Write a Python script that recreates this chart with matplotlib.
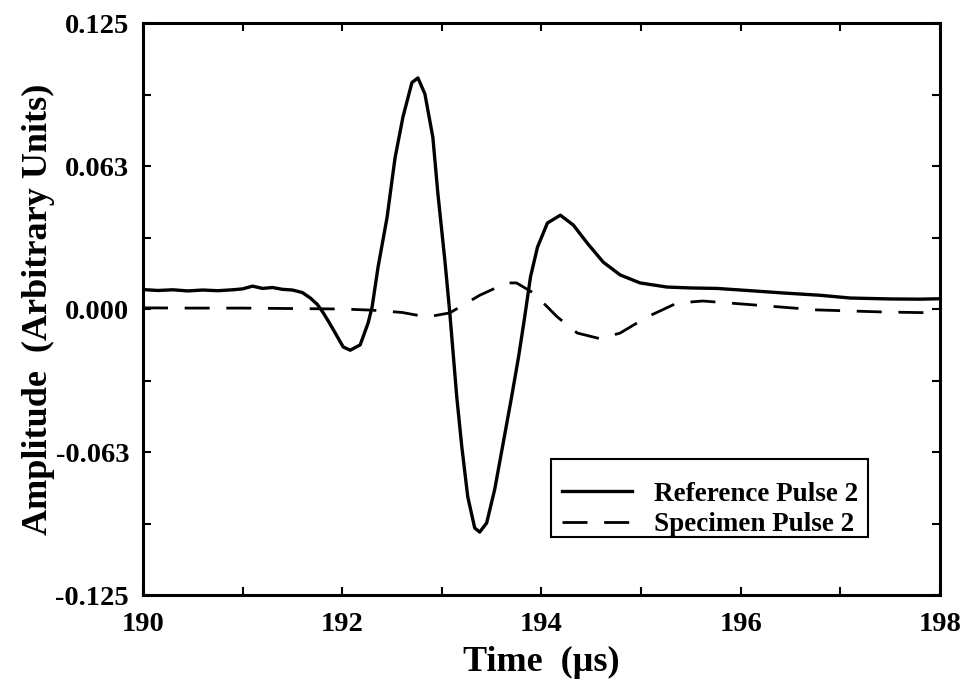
import matplotlib
matplotlib.use("Agg")
import matplotlib.pyplot as plt
from matplotlib.patches import Rectangle
from matplotlib.ticker import FixedLocator, FixedFormatter

plt.rcParams['font.family'] = ['Liberation Serif', 'DejaVu Serif']
plt.rcParams['font.weight'] = 'bold'

# reference pulse 2 (solid)
ref_t = [190.0, 190.15, 190.3, 190.45, 190.6, 190.75, 190.9, 191.0, 191.1, 191.2,
         191.3, 191.4, 191.5, 191.6, 191.68, 191.75, 191.81, 191.87, 191.93, 192.01,
         192.08, 192.18, 192.26, 192.30, 192.36, 192.45, 192.53, 192.61, 192.70, 192.76,
         192.83, 192.91, 192.96, 193.03, 193.08, 193.15, 193.20, 193.26, 193.33, 193.38,
         193.45, 193.53, 193.61, 193.70, 193.77, 193.83, 193.89, 193.96, 194.06, 194.19,
         194.32, 194.46, 194.62, 194.79, 194.99, 195.26, 195.5, 195.76, 196.1, 196.43,
         196.8, 197.10, 197.5, 197.8, 198.0]
ref_a = [0.0085, 0.0081, 0.0084, 0.0079, 0.0083, 0.0080, 0.0084, 0.0088, 0.0100, 0.0090,
         0.0094, 0.0086, 0.0083, 0.0072, 0.0048, 0.0020, -0.0017, -0.0060, -0.0105, -0.0166,
         -0.0180, -0.0157, -0.0061, 0.0009, 0.0184, 0.0400, 0.0660, 0.0840, 0.0990, 0.1010,
         0.0940, 0.0750, 0.0506, 0.0214, -0.0017, -0.0385, -0.0600, -0.0820, -0.0957, -0.0975,
         -0.0935, -0.0790, -0.0600, -0.0385, -0.0210, -0.0040, 0.0140, 0.0270, 0.0376, 0.0410,
         0.0367, 0.0288, 0.0205, 0.0149, 0.0114, 0.0096, 0.0092, 0.0090, 0.0080, 0.0070,
         0.0060, 0.0048, 0.0044, 0.0043, 0.0045]

# specimen pulse 2 (dashed)
spec_t = [190.0, 190.5, 191.0, 191.5, 192.0, 192.3, 192.6, 192.85, 193.08, 193.38,
          193.65, 193.75, 193.92, 194.16, 194.36, 194.59, 194.79, 195.06, 195.36, 195.62,
          196.16, 196.77, 197.43, 198.0]
spec_a = [0.0005, 0.0004, 0.0004, 0.0002, 0.0, -0.0005, -0.0015, -0.0035, -0.0017, 0.0060,
          0.0114, 0.0114, 0.0070, -0.0035, -0.0105, -0.0130, -0.0105, -0.0035, 0.0026, 0.0035,
          0.0017, -0.0004, -0.0013, -0.0017]

y_ticks = [0.125, 0.0625, 0.0, -0.0625, -0.125]
y_labels = ['0.125', '0.063', '0.000', '-0.063', '-0.125']
y_minor = [0.09375, 0.03125, -0.03125, -0.09375]
x_ticks = [190, 192, 194, 196, 198]
x_minor = [191, 193, 195, 197]

fig = plt.figure(figsize=(9.63, 6.87), dpi=100)
ax = fig.add_axes([0.1485, 0.1339, 0.8275, 0.8326])

ax.plot(ref_t, ref_a, color='black', lw=2.4, label='Reference Pulse 2')
ax.plot(spec_t, spec_a, color='black', lw=2.0, dashes=(9, 6), label='Specimen Pulse 2')

ax.set_xlim(190, 198)
ax.set_ylim(-0.125, 0.125)
ax.yaxis.set_major_locator(FixedLocator(y_ticks))
ax.yaxis.set_major_formatter(FixedFormatter(y_labels))
ax.yaxis.set_minor_locator(FixedLocator(y_minor))
ax.xaxis.set_major_locator(FixedLocator(x_ticks))
ax.xaxis.set_minor_locator(FixedLocator(x_minor))

ax.tick_params(which='both', direction='in', top=True, right=True, length=6, width=1.5)
ax.tick_params(axis='x', labelsize=20.5, pad=12)
ax.tick_params(axis='y', labelsize=20.5, pad=10)
for s in ax.spines.values():
    s.set_linewidth(2.2)

ax.set_xlabel('Time  (\u00b5s)', fontsize=26, fontweight='bold')
ax.set_ylabel('Amplitude  (Arbitrary Units)', fontsize=26, fontweight='bold')
ax.xaxis.set_label_coords(0.5, -0.089)
ax.yaxis.set_label_coords(-0.1105, 0.5)

# legend rows sit low in the original box, so the box is drawn separately
box = Rectangle((0.512, 0.101), 0.398, 0.137, transform=ax.transAxes, facecolor='white',
                edgecolor='black', lw=1.5, zorder=4)
ax.add_patch(box)
leg = ax.legend(loc='lower left', bbox_to_anchor=(0.5257, 0.101), fontsize=19.5,
                frameon=False, handlelength=2.6, handletextpad=0.8, borderaxespad=0,
                borderpad=0.0, labelspacing=0.2)
leg.set_zorder(5)

fig.savefig('out.png', dpi=100)
